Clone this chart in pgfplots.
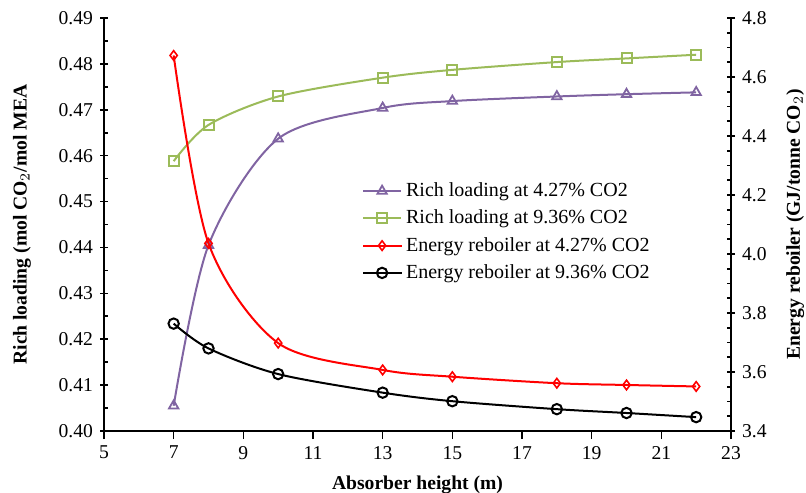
\documentclass[border=0pt]{standalone}
\usepackage{pgfplots}
\pgfplotsset{compat=1.18}
\usepackage{fontspec}
\setmainfont{Liberation Serif}
\definecolor{cpurple}{HTML}{8064A2}
\definecolor{cgreen}{HTML}{9BBB59}
\begin{document}
\fontsize{10pt}{12pt}\selectfont
\begin{tikzpicture}
\path[use as bounding box] (0,0) rectangle (403pt,246pt);
\pgfplotsset{
  every axis/.append style={
    scale only axis, width=313.5pt, height=206.5pt,
    xmin=5, xmax=23,
    /pgf/number format/assume math mode=true,
    tick label style={font=\fontsize{9.8pt}{11pt}\selectfont},
    label style={font=\fontsize{9.8pt}{11pt}\selectfont\bfseries},
    axis line style={line width=1pt},
    major tick style={line width=0.8pt,black},
    minor tick style={line width=0.8pt,black},
    major tick length=4pt, minor tick length=2.2pt,
  },
}
\begin{axis}[
  at={(52pt,30.5pt)}, anchor=south west,
  axis x line*=bottom, axis y line*=left,
  ymin=0.40, ymax=0.49,
  xtick={5,7,...,23}, xtick align=outside,
  ytick={0.40,0.41,...,0.49}, ytick align=center,
  minor y tick num=1,
  minor y tick style={xshift=1.1pt},
  yticklabel style={/pgf/number format/.cd,fixed,fixed zerofill,precision=2},
  xlabel={Absorber height (m)},
  ylabel={Rich loading (mol CO$_2$/mol MEA},
  xlabel style={yshift=-1.5pt},
  ylabel style={yshift=7pt},
]
\addplot[cpurple, line width=1pt, smooth, mark=triangle, mark size=2.7pt, mark options={solid, line width=0.9pt, fill=white}]
coordinates {(7,0.4055) (8,0.4405) (10,0.4637) (13,0.4704) (15,0.4719) (18,0.4729) (20,0.4734) (22,0.4738)};
\addplot[cgreen, line width=1pt, smooth, mark=square, mark size=2.5pt, mark options={solid, line width=1pt, fill=white}]
coordinates {(7,0.4588) (8,0.4667) (10,0.4729) (13,0.4770) (15,0.4787) (18,0.4804) (20,0.4812) (22,0.4820)};
\end{axis}
\begin{axis}[
  at={(52pt,30.5pt)}, anchor=south west,
  axis x line=none, axis y line*=right,
  ymin=3.4, ymax=4.8,
  ytick={3.4,3.6,...,4.81}, ytick align=center,
  minor y tick num=3,
  minor y tick style={xshift=-1.1pt},
  yticklabel style={/pgf/number format/.cd,fixed,fixed zerofill,precision=1},
  ylabel={Energy reboiler (GJ/tonne CO$_2$)},
  ylabel style={yshift=-3pt},
  legend style={draw=none, fill=none, at={(rel axis cs:0.411,0.612)}, anchor=north west,
    font=\fontsize{10pt}{12pt}\selectfont, row sep=1.2pt, inner sep=0pt,
    legend cell align=left},
  legend image code/.code={\draw[mark repeat=2,mark phase=2] plot coordinates {(0pt,0pt) (9.5pt,0pt) (19pt,0pt)};},
]
\addlegendimage{cpurple, line width=1pt, mark=triangle, mark size=2.7pt, mark options={solid, line width=0.9pt, fill=white}}
\addlegendentry{Rich loading at 4.27\% CO2}
\addlegendimage{cgreen, line width=1pt, mark=square, mark size=2.5pt, mark options={solid, line width=1pt, fill=white}}
\addlegendentry{Rich loading at 9.36\% CO2}
\addplot[red, line width=1pt, smooth, mark=diamond, mark size=2.4pt, mark options={solid, line width=0.8pt, fill=white}]
coordinates {(7,4.673) (8,4.036) (10,3.698) (13,3.607) (15,3.584) (18,3.562) (20,3.556) (22,3.551)};
\addlegendentry{Energy reboiler at 4.27\% CO2}
\addplot[black, line width=1pt, smooth, mark=o, mark size=2.6pt, mark options={solid, line width=1pt, fill=white}]
coordinates {(7,3.764) (8,3.680) (10,3.593) (13,3.530) (15,3.501) (18,3.474) (20,3.461) (22,3.447)};
\addlegendentry{Energy reboiler at 9.36\% CO2}
\end{axis}
\end{tikzpicture}
\end{document}
